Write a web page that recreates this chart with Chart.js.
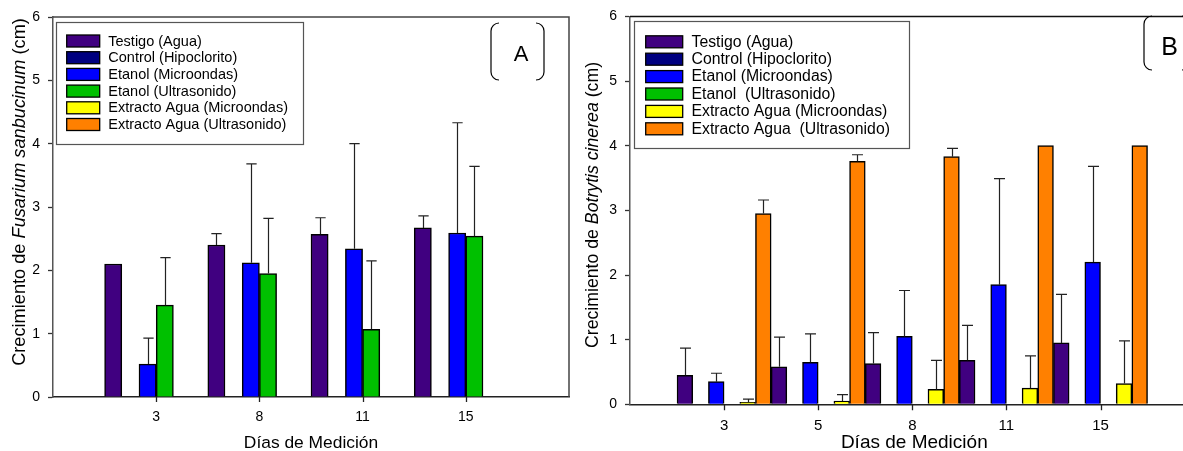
<!DOCTYPE html>
<html>
<head>
<meta charset="utf-8">
<script src="https://cdn.jsdelivr.net/npm/chart.js@4.4.1/dist/chart.umd.min.js"></script>
<style>
  html, body { margin: 0; padding: 0; background: #fff; overflow: hidden; width: 1183px; height: 451px; }
  canvas { position: absolute; top: 0; }
  #chartA { left: 0; }
  #chartB { left: 560px; }
</style>
</head>
<body>
<canvas id="chartA" width="590" height="451"></canvas>
<canvas id="chartB" width="660" height="451"></canvas>
<script>
const FONT = "'Liberation Sans', Arial, sans-serif";

// ---- Panel A: Fusarium sanbucinum ----
const daysA = ['', '3', '8', '11', '15', ''];
const seriesNamesA = ['Testigo (Agua)', 'Control (Hipoclorito)', 'Etanol (Microondas)',
  'Etanol (Ultrasonido)', 'Extracto Agua (Microondas)', 'Extracto Agua (Ultrasonido)'];
const testigoA      = [null, 2.10, 2.40, 2.57, 2.67, null];
const controlA      = [null, null, null, null, null, null];
const etanolMicroA  = [null, 0.52, 2.12, 2.34, 2.59, null];
const etanolUltraA  = [null, 1.45, 1.95, 1.07, 2.54, null];
const aguaMicroA    = [null, null, null, null, null, null];
const aguaUltraA    = [null, null, null, null, null, null];
// upper error (standard deviation)
const testigoErrA     = [null, 0, 0.18, 0.26, 0.19, null];
const controlErrA     = [null, null, null, null, null, null];
const etanolMicroErrA = [null, 0.41, 1.56, 1.66, 1.74, null];
const etanolUltraErrA = [null, 0.75, 0.87, 1.08, 1.10, null];
const aguaMicroErrA   = [null, null, null, null, null, null];
const aguaUltraErrA   = [null, null, null, null, null, null];

// ---- Panel B: Botrytis cinerea ----
const daysB = ['', '3', '5', '8', '11', '15', ''];
const seriesNamesB = ['Testigo (Agua)', 'Control (Hipoclorito)', 'Etanol (Microondas)',
  'Etanol  (Ultrasonido)', 'Extracto Agua (Microondas)', 'Extracto Agua  (Ultrasonido)'];
const testigoB      = [null, 0.45, 0.58, 0.63, 0.68, 0.95, null];
const controlB      = [null, null, null, null, null, null, null];
const etanolMicroB  = [null, 0.35, 0.65, 1.05, 1.85, 2.20, null];
const etanolUltraB  = [null, null, null, null, null, null, null];
const aguaMicroB    = [null, 0.03, 0.05, 0.23, 0.25, 0.32, null];
const aguaUltraB    = [null, 2.95, 3.76, 3.83, 4.00, 4.00, null];
const testigoErrB     = [null, 0.42, 0.46, 0.48, 0.54, 0.75, null];
const controlErrB     = [null, null, null, null, null, null, null];
const etanolMicroErrB = [null, 0.13, 0.44, 0.71, 1.64, 1.48, null];
const etanolUltraErrB = [null, null, null, null, null, null, null];
const aguaMicroErrB   = [null, 0.05, 0.10, 0.45, 0.50, 0.66, null];
const aguaUltraErrB   = [null, 0.21, 0.10, 0.13, 0, 0, null];

const yTicks = [0, 1, 2, 3, 4, 5, 6];

const seriesColors = ['#400080', '#000080', '#0000ff', '#00c000', '#ffff00', '#ff8000'];

function buildDatasets(names, values, errors) {
  return names.map((name, i) => ({
    label: name,
    data: values[i],
    errorBars: errors[i],
    backgroundColor: seriesColors[i],
    borderColor: '#000',
    borderWidth: 1.5,
    categoryPercentage: 1,
    barPercentage: 1
  }));
}

// upper error whiskers with a cap
const errorBarPlugin = {
  id: 'errorBars',
  afterDatasetsDraw(chart, args, opts) {
    const ctx = chart.ctx;
    const yScale = chart.scales.y;
    ctx.save();
    ctx.strokeStyle = opts.color || '#222';
    ctx.lineWidth = opts.lineWidth || 1.2;
    chart.data.datasets.forEach((ds, di) => {
      const meta = chart.getDatasetMeta(di);
      ds.data.forEach((v, j) => {
        const e = ds.errorBars ? ds.errorBars[j] : null;
        if (v == null || !e) return;
        const bar = meta.data[j];
        const yTop = yScale.getPixelForValue(v + e);
        const x = Math.round(bar.x) + 0.5;
        const half = bar.width * (opts.capRatio || 0.3);
        ctx.beginPath();
        ctx.moveTo(x, bar.y);
        ctx.lineTo(x, yTop);
        ctx.moveTo(x - half, yTop);
        ctx.lineTo(x + half, yTop);
        ctx.stroke();
      });
    });
    ctx.restore();
  }
};

// plot frame edges and the category tick marks under the x axis
const framePlugin = {
  id: 'frame',
  afterDraw(chart, args, opts) {
    const { left, top, right, bottom } = chart.chartArea;
    const ctx = chart.ctx;
    const xScale = chart.scales.x;
    ctx.save();
    ctx.strokeStyle = opts.color || '#333';
    ctx.lineWidth = opts.lineWidth || 1.5;
    ctx.beginPath();
    ctx.moveTo(left, top);
    ctx.lineTo(right, top);
    ctx.lineTo(right, bottom);
    ctx.stroke();
    ctx.strokeStyle = '#222';
    ctx.lineWidth = 1.3;
    ctx.beginPath();
    xScale.ticks.forEach((t, i) => {
      if (!chart.data.labels[i]) return;
      const x = Math.round(xScale.getPixelForTick(i)) + 0.5;
      ctx.moveTo(x, bottom);
      ctx.lineTo(x, bottom + opts.tickLength);
    });
    ctx.stroke();
    ctx.restore();
  }
};

// boxed legend inside the plot area
const boxLegendPlugin = {
  id: 'boxLegend',
  afterDraw(chart, args, o) {
    const ctx = chart.ctx;
    const ca = chart.chartArea;
    const bx = ca.left + o.dx, by = ca.top + o.dy;
    ctx.save();
    ctx.fillStyle = '#fff';
    ctx.fillRect(bx, by, o.w, o.h);
    ctx.strokeStyle = '#555';
    ctx.lineWidth = 1.2;
    ctx.strokeRect(Math.round(bx) + 0.5, Math.round(by) + 0.5, o.w, o.h);
    ctx.font = o.fontSize + 'px ' + FONT;
    ctx.textBaseline = 'middle';
    chart.data.datasets.forEach((ds, i) => {
      const cy = by + o.firstRow + i * o.rowStep;
      ctx.fillStyle = ds.backgroundColor;
      ctx.fillRect(bx + o.swatchX, cy - o.swatchH / 2, o.swatchW, o.swatchH);
      ctx.strokeStyle = '#000';
      ctx.lineWidth = 1.3;
      ctx.strokeRect(bx + o.swatchX, cy - o.swatchH / 2, o.swatchW, o.swatchH);
      ctx.fillStyle = '#000';
      ctx.fillText(ds.label, bx + o.textX, cy + 0.5);
    });
    ctx.restore();
  }
};

// panel letter inside a bracket-style rounded box
const panelTagPlugin = {
  id: 'panelTag',
  afterDraw(chart, args, o) {
    const ctx = chart.ctx;
    const { x0, x1, y0, y1, r } = o;
    ctx.save();
    ctx.strokeStyle = '#000';
    ctx.lineWidth = 1.2;
    ctx.beginPath();
    ctx.moveTo(x0 + r, y0);
    ctx.arcTo(x0, y0, x0, y0 + r, r);
    ctx.lineTo(x0, y1 - r);
    ctx.arcTo(x0, y1, x0 + r, y1, r);
    ctx.moveTo(x1 - r, y0);
    ctx.arcTo(x1, y0, x1, y0 + r, r);
    ctx.lineTo(x1, y1 - r);
    ctx.arcTo(x1, y1, x1 - r, y1, r);
    ctx.stroke();
    ctx.fillStyle = '#000';
    ctx.font = o.fontSize + 'px ' + FONT;
    ctx.textAlign = 'center';
    ctx.textBaseline = 'middle';
    ctx.fillText(o.text, o.tx, o.ty);
    ctx.restore();
  }
};

// axis titles, with italic species names
function drawRuns(ctx, runs, size, cx, cy) {
  const fonts = runs.map(r => (r.italic ? 'italic ' : '') + size + 'px ' + FONT);
  const widths = runs.map((r, i) => { ctx.font = fonts[i]; return ctx.measureText(r.text).width; });
  const total = widths.reduce((a, b) => a + b, 0);
  let x = cx - total / 2;
  runs.forEach((r, i) => {
    ctx.font = fonts[i];
    ctx.fillText(r.text, x, cy);
    x += widths[i];
  });
}
const axisTitlePlugin = {
  id: 'axisTitles',
  afterDraw(chart, args, o) {
    const ctx = chart.ctx;
    const ca = chart.chartArea;
    ctx.save();
    ctx.fillStyle = '#000';
    ctx.textAlign = 'left';
    ctx.textBaseline = 'middle';
    drawRuns(ctx, o.xRuns, o.xSize, (ca.left + ca.right) / 2 + (o.xShift || 0), o.xY);
    ctx.translate(o.yX, o.yY);
    ctx.rotate(-Math.PI / 2);
    drawRuns(ctx, o.yRuns, o.ySize, 0, 0);
    ctx.restore();
  }
};

function makeChart(canvasId, labels, datasets, layout, pluginOpts) {
  return new Chart(document.getElementById(canvasId), {
    type: 'bar',
    data: { labels, datasets },
    plugins: [errorBarPlugin, framePlugin, boxLegendPlugin, panelTagPlugin, axisTitlePlugin],
    options: {
      responsive: false,
      devicePixelRatio: 1,
      animation: false,
      layout: { padding: { top: layout.top, right: layout.right, left: 0, bottom: 0 } },
      scales: {
        x: {
          type: 'category',
          offset: false,
          grid: { offset: false, display: true, drawOnChartArea: false, drawTicks: true,
                  tickLength: 5, tickColor: 'rgba(0,0,0,0)' },
          border: { display: true, color: '#222', width: 1.5 },
          ticks: {
            autoSkip: false, maxRotation: 0, padding: layout.xTickPad,
            color: '#000', font: { family: FONT, size: layout.xTickSize }
          },
          afterFit(s) { s.height = layout.xHeight; }
        },
        y: {
          min: 0, max: 6,
          afterBuildTicks(s) { s.ticks = yTicks.map(v => ({ value: v })); },
          grid: { drawOnChartArea: false, drawTicks: true, tickLength: 5, tickColor: '#333', tickWidth: 1.3 },
          border: { display: true, color: '#555', width: 1.5 },
          ticks: { padding: 8, color: '#000', font: { family: FONT, size: 14 } },
          afterFit(s) { s.width = layout.yWidth; }
        }
      },
      plugins: {
        legend: { display: false },
        tooltip: { enabled: false },
        errorBars: pluginOpts.errorBars,
        frame: pluginOpts.frame,
        boxLegend: pluginOpts.boxLegend,
        panelTag: pluginOpts.panelTag,
        axisTitles: pluginOpts.axisTitles
      }
    }
  });
}

makeChart('chartA', daysA,
  buildDatasets(seriesNamesA,
    [testigoA, controlA, etanolMicroA, etanolUltraA, aguaMicroA, aguaUltraA],
    [testigoErrA, controlErrA, etanolMicroErrA, etanolUltraErrA, aguaMicroErrA, aguaUltraErrA]),
  { top: 17, right: 21, yWidth: 53, xHeight: 54, xTickPad: 7, xTickSize: 14 },
  {
    errorBars: { color: '#222', lineWidth: 1.2, capRatio: 0.3 },
    frame: { color: '#444', lineWidth: 1.5, tickLength: 5 },
    boxLegend: { dx: 3, dy: 4.7, w: 247, h: 122, swatchX: 10.7, swatchW: 33, swatchH: 12,
                 textX: 52.3, firstRow: 19.3, rowStep: 16.7, fontSize: 14.5 },
    panelTag: { x0: 491, x1: 544, y0: 23, y1: 80, r: 8, text: 'A', tx: 521, ty: 55, fontSize: 22 },
    axisTitles: {
      xRuns: [{ text: 'Días de Medición' }], xSize: 17.4, xY: 443,
      yRuns: [{ text: 'Crecimiento de ' }, { text: 'Fusarium sanbucinum', italic: true }, { text: ' (cm)' }],
      ySize: 18.2, yX: 19.5, yY: 192
    }
  });

makeChart('chartB', daysB,
  buildDatasets(seriesNamesB,
    [testigoB, controlB, etanolMicroB, etanolUltraB, aguaMicroB, aguaUltraB],
    [testigoErrB, controlErrB, etanolMicroErrB, etanolUltraErrB, aguaMicroErrB, aguaUltraErrB]),
  { top: 14, right: 25.4, yWidth: 70, xHeight: 46.7, xTickPad: 7.5, xTickSize: 15 },
  {
    errorBars: { color: '#222', lineWidth: 1.2, capRatio: 0.35 },
    frame: { color: '#111', lineWidth: 1.5, tickLength: 6 },
    boxLegend: { dx: 4, dy: 5, w: 275, h: 127, swatchX: 11.7, swatchW: 37, swatchH: 12,
                 textX: 57.5, firstRow: 20.4, rowStep: 17.4, fontSize: 15.8 },
    panelTag: { x0: 584, x1: 630, y0: 16, y1: 70, r: 8, text: 'B', tx: 609.5, ty: 48.5, fontSize: 25 },
    axisTitles: {
      xRuns: [{ text: 'Días de Medición' }], xSize: 19, xY: 443, xShift: 2,
      yRuns: [{ text: 'Crecimiento de ' }, { text: 'Botrytis cinerea', italic: true }, { text: ' (cm)' }],
      ySize: 17.7, yX: 33.3, yY: 205
    }
  });
</script>
</body>
</html>
